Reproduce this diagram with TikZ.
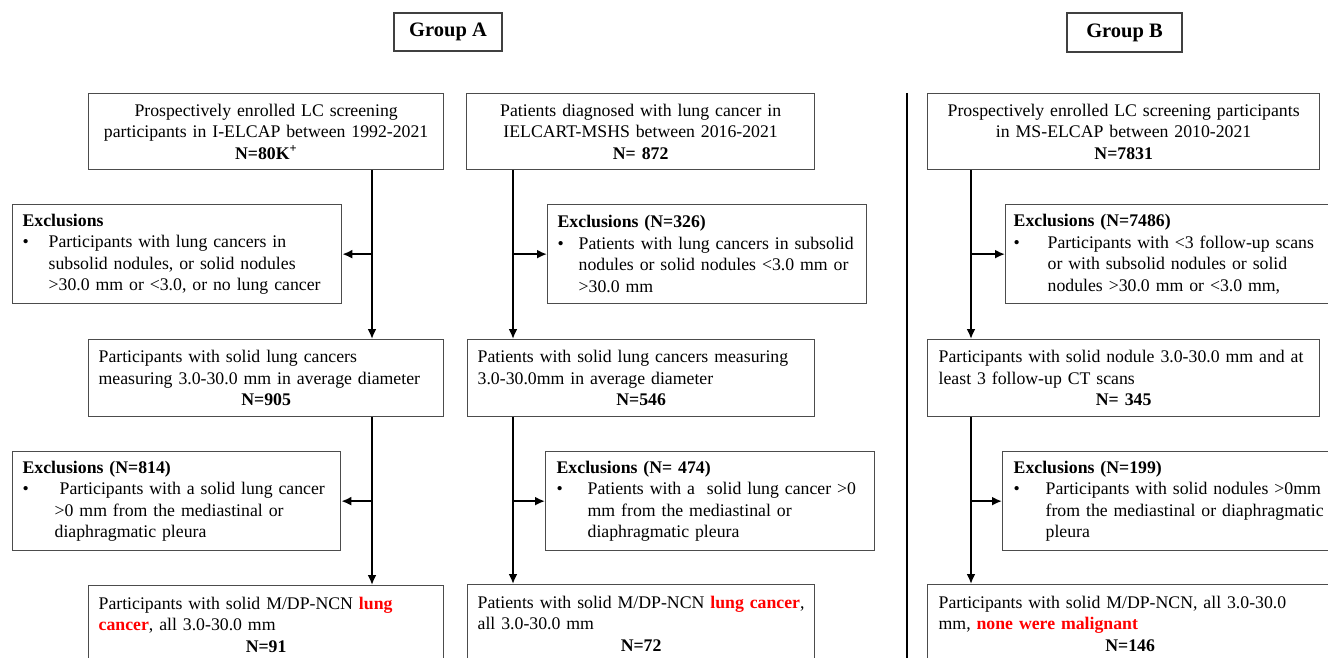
\documentclass[tikz,border=0pt]{standalone}
\usepackage{fontspec}
\setmainfont{Liberation Serif}
\usetikzlibrary{arrows.meta}
\setlength{\parindent}{0pt}
\newcommand{\exbullet}[1]{\par\hangindent=#1\hangafter=1\noindent\makebox[#1][l]{\textbullet}}
\newcommand{\brk}{\hfil\break}
\newcommand{\ncount}[1]{\makebox[\hsize]{\textbf{#1}}}
\newcommand{\hl}[1]{\textcolor{red}{\textbf{#1}}}
\tikzset{
	stage/.style={
		% The shape:
		rectangle,anchor=north west,
		% The border:
		draw=black!70,line width=1.3pt,
		% The text:
		inner xsep=10pt,inner ysep=0pt,
		font=\fontsize{17.75}{21.5}\selectfont,
	}}
\tikzset{
	group/.style={
		% The shape:
		rectangle,anchor=north west,
		% The border:
		draw=black!75,line width=2pt,
		font=\fontsize{20.5}{24}\selectfont\bfseries,
	}}
\tikzset{
	flow/.style={->,line width=2.2pt}}

\begin{document}
\begin{tikzpicture}[x=1pt,y=-1pt,>={Latex[length=10pt,width=9pt]}]
	\useasboundingbox (0,0) rectangle (1328,658);
	\clip (0,0) rectangle (1328,658);
	% group headers
	\node[group,minimum width=108pt,minimum height=38pt] (grp-a) at (393,12) {Group A};
	\node[group,minimum width=115pt,minimum height=39pt] (grp-b) at (1066,12) {Group B};
	% Group A, I-ELCAP
	\node[stage,text width=335pt,minimum height=76pt,align=center] (a-top) at (88,93)
		{Prospectively enrolled LC screening\\participants in I-ELCAP between 1992-2021\\\textbf{N=80K\textsuperscript{+}}};
	\node[stage,text width=309pt,minimum height=99pt] (a-ex1) at (12,204)
		{\textbf{Exclusions}\exbullet{26pt}Participants with lung cancers in\brk subsolid nodules, or solid nodules\brk >30.0 mm or <3.0, or no lung cancer\par};
	\node[stage,text width=335pt,minimum height=77pt] (a-mid) at (88,339)
		{Participants with solid lung cancers\\\mbox{measuring 3.0-30.0 mm in average diameter}\\\ncount{N=905}};
	\node[stage,text width=308pt,minimum height=99pt] (a-ex2) at (12,451)
		{\textbf{Exclusions (N=814)}\exbullet{32pt}\hspace{5pt}\mbox{Participants with a solid lung cancer}\brk >0 mm from the mediastinal or\brk diaphragmatic pleura\par};
	\node[stage,text width=335pt,minimum height=78pt] (a-bot) at (88,585)
		{Participants with solid M/DP-NCN \hl{lung}\\\hl{cancer}, all 3.0-30.0 mm\\\ncount{N=91}};
	% Group A, IELCART-MSHS
	\node[stage,text width=328pt,minimum height=76pt,align=center] (m-top) at (466,93)
		{Patients diagnosed with lung cancer in\\IELCART-MSHS between 2016-2021\\\textbf{N= 872}};
	\node[stage,text width=299pt,minimum height=99pt] (m-ex1) at (547,204)
		{\textbf{Exclusions (N=326)}\exbullet{21pt}\mbox{Patients with lung cancers in subsolid}\brk nodules or solid nodules <3.0 mm or\brk >30.0 mm\par};
	\node[stage,text width=327pt,minimum height=77pt] (m-mid) at (467,339)
		{\mbox{Patients with solid lung cancers measuring}\\3.0-30.0mm in average diameter\\\ncount{N=546}};
	\node[stage,inner xsep=11pt,text width=307pt,minimum height=99pt] (m-ex2) at (545,451)
		{\textbf{Exclusions (N= 474)}\exbullet{31pt}\mbox{Patients with a \ solid lung cancer >0}\brk mm from the mediastinal or\brk diaphragmatic pleura\par};
	\node[stage,text width=327pt,minimum height=78pt] (m-bot) at (467,584)
		{\mbox{Patients with solid M/DP-NCN \hl{lung cancer},}\\all 3.0-30.0 mm\\\ncount{N=72}};
	% Group B, MS-ELCAP
	\node[stage,text width=372pt,minimum height=76pt,align=center] (b-top) at (927,93)
		{Prospectively enrolled LC screening participants\\in MS-ELCAP between 2010-2021\\\textbf{N=7831}};
	\node[stage,inner xsep=8pt,text width=329pt,minimum height=99pt] (b-ex1) at (1005,204)
		{\textbf{Exclusions (N=7486)}\exbullet{34pt}\mbox{Participants with <3 follow-up scans}\brk or with subsolid nodules or solid\brk nodules >30.0 mm or <3.0 mm,\par};
	\node[stage,inner xsep=11pt,text width=370pt,minimum height=77pt] (b-mid) at (927,339)
		{\mbox{Participants with solid nodule 3.0-30.0 mm and at}\\least 3 follow-up CT scans\\\ncount{N= 345}};
	\node[stage,inner xsep=11pt,text width=326pt,minimum height=99pt] (b-ex2) at (1002,451)
		{\textbf{Exclusions (N=199)}\exbullet{32pt}\mbox{Participants with solid nodules >0mm}\brk \mbox{from the mediastinal or diaphragmatic}\brk pleura\par};
	\node[stage,inner xsep=11pt,text width=383pt,minimum height=78pt] (b-bot) at (927,584)
		{Participants with solid M/DP-NCN, all 3.0-30.0\\mm, \hl{none were malignant}\\\ncount{N=146}};
	% divider between the groups
	\draw[line width=2.2pt] (907,93) -- (907,670);
	% flow lines
	\coordinate (a-line) at (372,0);
	\coordinate (m-line) at (513,0);
	\coordinate (b-line) at (971,0);
	\draw[flow] (a-top.south -| a-line) -- (a-mid.north -| a-line);
	\draw[flow] (a-ex1.east -| a-line) -- (a-ex1.east);
	\draw[flow] (a-mid.south -| a-line) -- (a-bot.north -| a-line);
	\draw[flow] (a-ex2.east -| a-line) -- (a-ex2.east);
	\draw[flow] (m-top.south -| m-line) -- (m-mid.north -| m-line);
	\draw[flow] (m-ex1.west -| m-line) -- (m-ex1.west);
	\draw[flow] (m-mid.south -| m-line) -- (m-bot.north -| m-line);
	\draw[flow] (m-ex2.west -| m-line) -- (m-ex2.west);
	\draw[flow] (b-top.south -| b-line) -- (b-mid.north -| b-line);
	\draw[flow] (b-ex1.west -| b-line) -- (b-ex1.west);
	\draw[flow] (b-mid.south -| b-line) -- (b-bot.north -| b-line);
	\draw[flow] (b-ex2.west -| b-line) -- (b-ex2.west);
\end{tikzpicture}
\end{document}
